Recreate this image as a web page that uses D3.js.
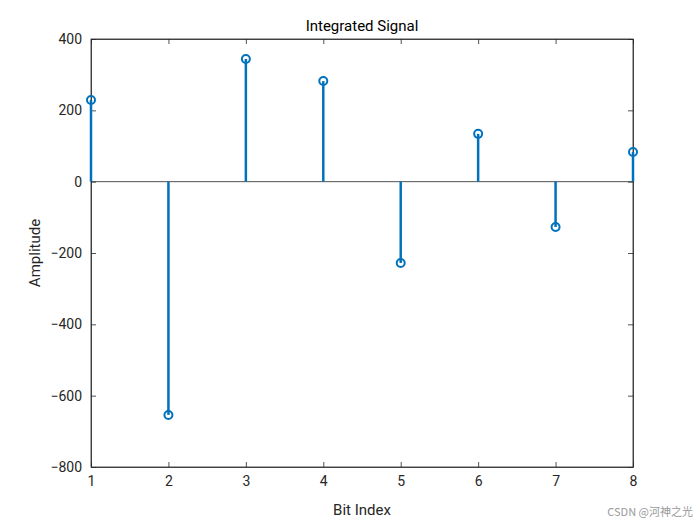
<!DOCTYPE html>
<html><head><meta charset="utf-8">
<script src="https://cdn.jsdelivr.net/npm/d3@7"></script>
<style>body{margin:0;background:#fff}</style></head>
<body><svg id="c" width="700" height="525"></svg>
<script>
const bitIndex = [1,2,3,4,5,6,7,8];
const amplitude = [229,-654,344,282,-228,134,-127,83];
const yTicks = [-800,-600,-400,-200,0,200,400];
const xTicks = [1,2,3,4,5,6,7,8];

const svg = d3.select("#c");
const L=91,R=633,T=39,B=467;
const x = d3.scaleLinear().domain([1,8]).range([L,R]);
const y = d3.scaleLinear().domain([-800,400]).range([B,T]);
const font = "Roboto, 'Liberation Sans', Arial, sans-serif";
const col = "#0072BD";

svg.append("rect").attr("x",L).attr("y",T).attr("width",R-L).attr("height",B-T)
  .attr("fill","#fff").attr("stroke","#262626").attr("stroke-width",0.8);

svg.append("g").attr("transform",`translate(0,${B})`)
  .call(d3.axisBottom(x).tickValues(xTicks).tickFormat(d3.format("d")).tickSize(-5).tickSizeOuter(0).tickPadding(9));
svg.append("g").attr("transform",`translate(${L},0)`)
  .call(d3.axisLeft(y).tickValues(yTicks).tickFormat(d3.format("d")).tickSize(-5).tickSizeOuter(0).tickPadding(9));
svg.append("g").attr("transform",`translate(0,${T})`)
  .call(d3.axisTop(x).tickValues(xTicks).tickSize(-5).tickSizeOuter(0).tickFormat(""));
svg.append("g").attr("transform",`translate(${R},0)`)
  .call(d3.axisRight(y).tickValues(yTicks).tickSize(-5).tickSizeOuter(0).tickFormat(""));
svg.selectAll(".domain").attr("stroke","#262626").attr("stroke-width",0.8);
svg.selectAll(".tick line").attr("stroke","#262626").attr("stroke-width",0.8);
svg.selectAll(".tick text").attr("font-family",font).attr("font-size",14).attr("fill","#262626");

svg.append("line").attr("x1",L).attr("x2",R).attr("y1",y(0)).attr("y2",y(0))
  .attr("stroke","#262626").attr("stroke-width",0.8);

svg.selectAll(".stem").data(bitIndex).enter().append("line")
  .attr("x1",d=>x(d)).attr("x2",d=>x(d)).attr("y1",y(0)).attr("y2",(d,i)=>y(amplitude[i]))
  .attr("stroke",col).attr("stroke-width",2.5);
svg.selectAll(".mk").data(bitIndex).enter().append("circle")
  .attr("cx",d=>x(d)).attr("cy",(d,i)=>y(amplitude[i])).attr("r",4)
  .attr("fill","none").attr("stroke",col).attr("stroke-width",2);

svg.append("text").attr("x",(L+R)/2).attr("y",31).attr("text-anchor","middle")
  .attr("font-family",font).attr("font-size",15).attr("fill","#000").text("Integrated Signal");
svg.append("text").attr("x",(L+R)/2).attr("y",515).attr("text-anchor","middle")
  .attr("font-family",font).attr("font-size",15).attr("fill","#262626").text("Bit Index");
svg.append("text").attr("transform",`translate(40,${(T+B)/2}) rotate(-90)`).attr("text-anchor","middle")
  .attr("font-family",font).attr("font-size",15).attr("fill","#262626").text("Amplitude");
svg.append("text").attr("x",693).attr("y",516).attr("text-anchor","end")
  .attr("font-family","'Noto Sans CJK SC', sans-serif").attr("font-size",11).attr("fill","#999").text("CSDN @河神之光");
</script></body></html>
